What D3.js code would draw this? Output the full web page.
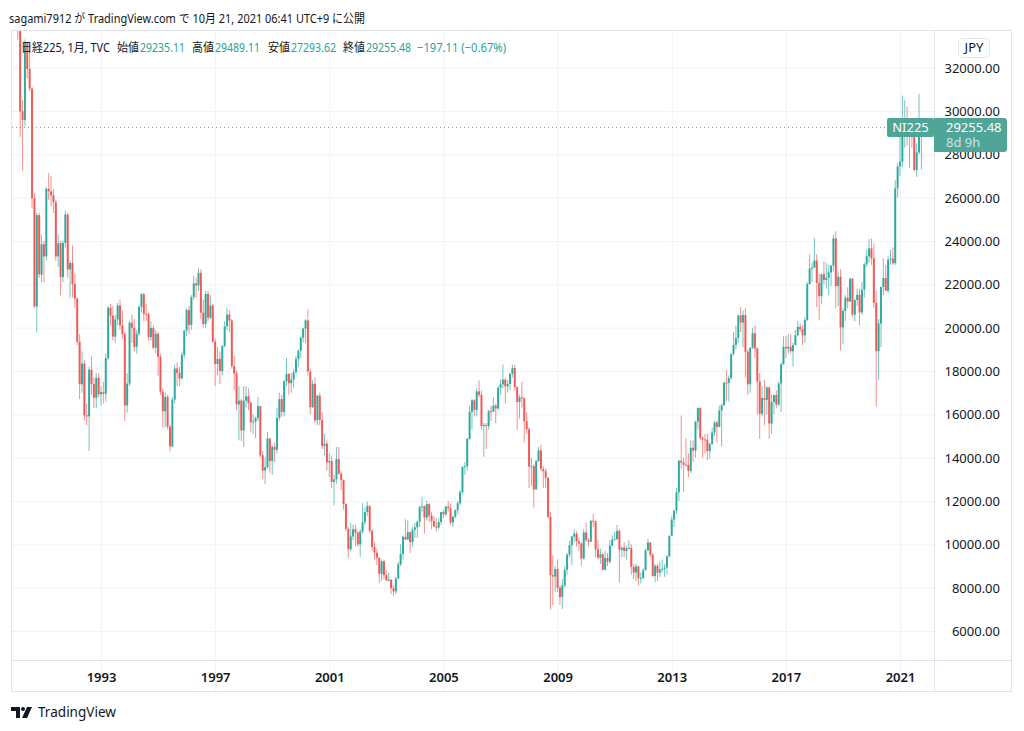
<!DOCTYPE html>
<html><head><meta charset="utf-8">
<script src="https://cdn.jsdelivr.net/npm/d3@7"></script>
<style>
html,body{margin:0;padding:0;background:#fff;}
svg{display:block;}
text{font-family:"Noto Sans","Noto Sans CJK JP",sans-serif;fill:#131722;}
</style></head><body>
<svg id="chart" width="1024" height="731"></svg>
<script>
// ---- data (monthly Nikkei 225, Jan 1990 .. Oct 2021) ----
const startYear = 1990;
const firstOpen = 38921;
const closes = [
37189,34592,29980,29585,33131,31940,31036,25978,20984,25194,22455,23849,
23293,26409,26292,26111,25790,23291,23900,22336,23916,25222,22688,22984,
22023,21339,19346,17391,18348,15952,15910,18061,17399,16767,17684,16925,
17024,16953,18591,20919,20552,19590,20380,21028,20106,19703,16408,17417,
20229,19997,19112,19725,20974,21552,20642,20629,19564,19990,19076,19723,
18650,17053,16140,16807,15437,14517,16678,18117,17913,17655,18744,19868,
20813,20125,21407,22041,21956,22531,20693,20167,21556,20467,21020,19361,
18330,18557,18003,19151,20069,20605,20331,18229,17888,16459,16637,15259,
16628,16832,16527,15641,15671,15830,16379,14108,13406,13565,14884,13842,
14499,14368,15837,16702,16112,17530,17862,17437,17605,17942,18558,18934,
19540,19960,20337,17974,16332,17411,15727,16861,15747,14540,14649,13786,
13844,12884,12999,13934,13262,12969,11861,10714,9775,10366,10697,10543,
9997,10588,11025,11493,11764,10622,9877,9619,9383,8640,9216,8579,
8340,8363,7973,7831,8425,9083,9563,10344,10219,10560,10101,10677,
10784,11042,11715,11762,11236,11859,11326,11082,10824,10771,11031,11489,
11388,11741,11669,11009,11277,11584,11900,12414,13574,13607,14872,16111,
16650,16206,17060,16906,15468,15505,15457,16141,16128,16399,16274,17226,
17383,17604,17288,17400,17876,18138,17249,16569,16786,16737,15681,15308,
13592,13603,12526,13850,14339,13481,13377,13073,11260,8577,8512,8860,
7994,7568,8110,8828,9523,9958,10357,10493,10133,10035,9346,10546,
10198,10126,11090,11057,9769,9383,9537,8824,9369,9202,9937,10229,
10238,10624,9755,9850,9694,9816,9833,8955,8700,8988,8435,8455,
8803,9723,10084,9521,8543,9007,8695,8840,8870,8928,9446,10395,
11139,11559,12398,13861,13775,13677,13668,13389,14456,14328,15662,16291,
14915,14841,14828,14304,14632,15162,15621,15425,16174,16414,17460,17451,
17674,18798,19207,19520,20563,20236,20585,18890,17388,19083,19747,19034,
17518,16027,16759,16666,17235,15576,16569,16887,16450,17425,18308,19114,
19041,19119,18909,19197,19651,20033,19925,19646,20356,22012,22725,22765,
23098,22068,21454,22468,22202,22305,22554,22865,24120,21920,22351,20015,
20773,21385,21206,22259,20601,21276,21521,20704,21756,22927,23294,23657,
23205,21143,18917,20194,21878,22288,21710,23140,23185,22977,26434,27444,
27663,28966,29179,28813,28860,28792,27284,28090,29453,29255.48
];
const highs = [
38951,37600,34900,30500,33300,33200,33100,31100,26200,25300,25300,24300,
24000,26500,27146,27000,26400,25900,24300,24000,24000,25400,25300,23100,
23800,22500,21400,19700,18900,18500,16500,18200,18700,17700,17900,17900,
17300,17500,18800,21000,21100,21000,20600,21148,21300,20800,19800,17900,
20300,20600,20400,19900,21000,21573,21600,21100,20700,20300,20100,19900,
19800,18800,17200,17000,16900,15500,16800,18300,18400,18200,18900,19900,
20900,21000,21500,22400,22300,22750,22700,21300,21700,21700,21500,21100,
19500,19100,18900,19200,20300,20910,20800,20400,18700,18000,17300,16700,
17300,17300,17200,16600,16000,15900,16800,16400,14300,14000,15200,14900,
14600,14700,16300,17000,16900,17600,18600,17900,17900,18100,18700,19000,
19600,20000,20400,20833,18100,17600,17700,16900,17000,16100,15100,14800,
14200,14100,13200,14500,14500,13400,13000,11900,10800,11000,10900,10900,
10600,10700,11900,11700,11979,11800,10700,10100,9800,9400,9300,9300,
8800,8700,8400,8100,8500,9200,10000,10400,11161,11100,10600,10800,
11000,11100,11800,12195,11800,12000,11900,11500,11300,11200,11200,11500,
11600,11800,12000,11900,11300,11600,12000,12500,13600,13800,14900,16400,
16700,16700,17200,17563,17100,15600,15600,16200,16400,16800,16500,17300,
17600,18300,17700,17600,17900,18300,18297,17300,16900,17500,16800,16100,
15400,14000,13700,13900,14500,14600,13600,13500,13100,11500,9500,9000,
9300,8100,8400,9000,9600,10170,10400,10700,10600,10300,10100,10700,
11000,10300,11100,11400,11100,10200,9800,9600,9700,9600,10200,10400,
10600,10900,10700,9900,10100,9900,10200,10000,9100,9100,9000,8700,
8900,9800,10255,10100,9600,9100,9100,9200,9300,9100,9500,10400,
11300,11600,12600,13900,15942,14000,14900,14200,14800,14800,15700,16320,
16321,15000,15100,15100,14700,15400,15700,15700,16400,16500,17500,18030,
17800,18800,19800,20100,20600,20953,20800,20900,19000,19100,20000,20100,
19100,17900,17300,17600,17300,17300,16900,16900,17100,17500,18400,19600,
19600,19700,19700,19300,19900,20300,20200,20100,20500,22100,23382,23000,
24129,23400,22500,22500,23050,23000,22900,22900,24300,24448,22600,22700,
20900,21500,21860,22300,22300,21300,21800,21800,22100,23000,23600,24100,
24116,23900,21700,20400,21900,23185,22900,23300,23600,23700,26800,27600,
28979,30714,30500,30200,29400,29500,28900,28500,30795,29489.11
];
const lows = [
36800,33300,28800,27250,29300,31500,30900,25500,20900,19781,22300,22100,
22100,23100,25900,25600,25300,23100,22800,21500,22100,23700,22300,21400,
21400,20900,19200,16700,17000,15700,15500,14309,16900,16300,16300,16800,
16400,16500,16600,18500,20100,19400,19300,20100,19900,19500,15700,16078,
17300,19300,18900,18800,19600,20700,20300,20300,19400,19400,19000,18800,
17785,16900,15381,15400,15300,14295,14485,16500,17300,17300,17600,18600,
19600,19700,19900,21300,21400,21700,20400,20000,20000,20300,20400,19300,
17303,17800,17400,17800,19100,19900,19800,18100,17100,16200,14800,14775,
14500,16300,16200,15200,15100,14900,15700,14000,13000,12787,13500,13300,
13200,13800,14200,15700,15900,15900,17300,16900,17000,17200,17900,18200,
18600,19300,19300,17800,16000,16300,15600,15500,15500,14400,14100,13400,
13100,12600,11800,12800,13200,12500,11600,10600,9382,9700,10200,9900,
9900,9420,10500,10900,11300,10500,9700,9300,9050,8200,8300,8400,
8300,8300,7700,7604,7700,8400,9000,9300,10200,10200,9600,9900,
10300,10300,10800,11500,10500,11100,11000,10700,10800,10600,10700,10900,
11200,11300,11500,10900,10800,11200,11400,11800,12300,13200,13400,14800,
15300,15900,15900,16800,15300,14045,14400,15300,15700,16100,15600,16200,
16900,17200,16500,17000,17100,17700,17100,15273,15800,16300,14700,15100,
12600,12700,11700,12600,13800,13400,12600,12600,11200,6995,7200,7800,
7800,7200,7021,8000,8600,9400,9050,10100,9900,9700,9000,9300,
10100,9900,10100,10800,9400,9300,9100,8800,8800,9000,9100,9900,
10200,10200,8227,9400,9400,9300,9800,8600,8400,8300,8100,8200,
8400,8800,9700,9400,8500,8238,8300,8500,8700,8500,8600,9400,
10400,10800,11400,12000,13500,12415,13600,13100,13300,13800,14000,15300,
14800,13995,14200,13885,13964,14600,15000,14700,15400,14529,16400,16600,
16600,17600,18700,19000,19300,19800,19100,17700,16900,17000,19000,18600,
16000,14865,15900,15500,16000,14864,15100,16000,16300,16400,16100,18300,
18600,18800,18800,18200,19200,19600,19800,19200,19300,20300,22000,22100,
22800,20950,20347,21100,22000,21800,21500,21900,22600,20900,21000,18949,
19241,20300,20900,21200,20500,20300,21000,20100,20600,21400,22800,23000,
22900,20900,16358,17600,19100,21500,21700,21600,22900,22900,22900,26000,
27000,27400,28300,28400,27385,28300,27200,26954,28000,27293.62
];
// latest bar as shown in the legend
const lastOpen = 29235.11, lastHigh = 29489.11, lastLow = 27293.62, lastClose = 29255.48;
const lastChange = "\u2212197.11", lastPct = "(\u22120.67%)";
const yTickValues = [6000,8000,10000,12000,14000,16000,18000,20000,22000,24000,26000,28000,30000,32000];
const yearLabels = [1993,1997,2001,2005,2009,2013,2017,2021];

// ---- layout ----
const W = 1024, H = 731;
const L = 11, R = 934, T = 30, B = 660, AB = 691, RB = 1011;
const upColor = "#26a69a", downColor = "#ef5350", labelColor = "#4fa597";
const frame = "#e0e3eb", grid = "#f0f3fa";

const n = closes.length;
const data = closes.map((c, i) => {
  const open = i === 0 ? firstOpen : (i === n - 1 ? lastOpen : closes[i - 1]);
  return {i, open, high: highs[i], low: lows[i], close: c};
});

const svg = d3.select("#chart");
const x = d3.scaleLinear().domain([0, 372]).range([15.4, 900]);
const y = d3.scaleLinear().domain([6000, 32000]).range([631, 67.7]);

svg.append("rect").attr("width", W).attr("height", H).attr("fill", "#fff");

// grid
const yGrid = svg.append("g").attr("transform", `translate(${L},0)`)
  .call(d3.axisRight(y).tickValues(yTickValues).tickSize(R - L).tickFormat(""));
yGrid.select(".domain").remove();
yGrid.selectAll("line").attr("stroke", grid);

const xTickIdx = yearLabels.map(yr => (yr - startYear) * 12);
const xGrid = svg.append("g").attr("transform", `translate(0,${T})`)
  .call(d3.axisBottom(x).tickValues(xTickIdx).tickSize(AB - T).tickFormat(""));
xGrid.select(".domain").remove();
xGrid.selectAll("line").attr("stroke", grid);

// frame
const fr = svg.append("g").attr("stroke", frame).attr("fill", "none");
fr.append("rect").attr("x", L + 0.5).attr("y", T + 0.5).attr("width", RB - L).attr("height", AB - T);
fr.append("line").attr("x1", L).attr("x2", RB).attr("y1", B + 0.5).attr("y2", B + 0.5);
fr.append("line").attr("x1", R + 0.5).attr("x2", R + 0.5).attr("y1", T).attr("y2", AB);

// clip
svg.append("clipPath").attr("id", "clip").append("rect")
  .attr("x", L + 1).attr("y", T + 1).attr("width", R - L - 1).attr("height", B - T - 1);

// last price dotted line
const yLast = Math.round(y(lastClose)) + 0.5;
svg.append("line").attr("x1", L + 1).attr("x2", 887).attr("y1", yLast).attr("y2", yLast)
  .attr("stroke", upColor).attr("stroke-opacity", 0.8).attr("stroke-dasharray", "1,3").attr("stroke-width", 1);

// candles
const cg = svg.append("g").attr("clip-path", "url(#clip)");
const col = d => d.close >= d.open ? upColor : downColor;
cg.selectAll("line.wick").data(data).join("line").attr("class", "wick")
  .attr("x1", d => x(d.i)).attr("x2", d => x(d.i))
  .attr("y1", d => y(d.high)).attr("y2", d => y(d.low))
  .attr("stroke", col).attr("stroke-width", 1).attr("stroke-opacity", 0.65);
cg.selectAll("rect.body").data(data).join("rect").attr("class", "body")
  .attr("x", d => x(d.i) - 1).attr("width", 2)
  .attr("y", d => y(Math.max(d.open, d.close)))
  .attr("height", d => Math.max(1, Math.abs(y(d.open) - y(d.close))))
  .attr("fill", col).attr("fill-opacity", 0.92);

// y axis labels
const yAx = svg.append("g").attr("transform", `translate(${R},0)`)
  .call(d3.axisRight(y).tickValues(yTickValues).tickSize(0).tickFormat(d => d.toFixed(2)));
yAx.select(".domain").remove();
yAx.selectAll("text").attr("x", 1000 - R).attr("text-anchor", "end")
  .attr("font-size", 13).attr("fill", "#131722").attr("dy", "0.35em")
  .style("font-family", '"Noto Sans",sans-serif');

// x axis labels
const xAx = svg.append("g").attr("transform", `translate(0,${B})`)
  .call(d3.axisBottom(x).tickValues(xTickIdx).tickSize(0).tickFormat(d => String(startYear + d / 12)));
xAx.select(".domain").remove();
xAx.selectAll("text").attr("y", 17).attr("dy", "0.35em")
  .attr("font-size", 13).attr("font-weight", 600).attr("fill", "#131722")
  .style("font-family", '"Noto Sans",sans-serif');

// JPY box
svg.append("rect").attr("x", 958.5).attr("y", 38.5).attr("width", 31).attr("height", 19).attr("rx", 4)
  .attr("fill", "#fff").attr("stroke", frame);
svg.append("text").attr("x", 974).attr("y", 52).attr("text-anchor", "middle").attr("font-size", 13).text("JPY");

// price labels
svg.append("rect").attr("x", 887).attr("y", 118).attr("width", 47).attr("height", 19).attr("rx", 2).attr("fill", labelColor);
svg.append("text").attr("x", 910.5).attr("y", 132).attr("text-anchor", "middle").attr("font-size", 13)
  .style("fill", "#fff").text("NI225");
svg.append("path").attr("fill", labelColor)
  .attr("d", "M934,118 H1004 Q1007,118 1007,121 V149 Q1007,152 1004,152 H934 Z");
svg.append("text").attr("x", 946).attr("y", 132).attr("font-size", 13).style("fill", "#fff").text(lastClose.toFixed(2));
svg.append("text").attr("x", 946).attr("y", 147).attr("font-size", 13).style("fill", "rgba(255,255,255,0.72)").text("8d 9h");

// title
svg.append("text").attr("x", 9).attr("y", 23).attr("font-size", 12.5)
  .attr("textLength", 356).attr("lengthAdjust", "spacingAndGlyphs")
  .text("sagami7912 が TradingView.com で 10月 21, 2021 06:41 UTC+9 に公開");

// legend
const lg = svg.append("g").attr("font-size", 12);
const legendItems = [
  {x: 21, w: 89, t: "日経225, 1月, TVC", c: "#131722"},
  {x: 117, w: 22, t: "始値", c: "#131722"}, {x: 140, w: 45, t: lastOpen.toFixed(2), c: upColor},
  {x: 192, w: 22, t: "高値", c: "#131722"}, {x: 215, w: 45, t: lastHigh.toFixed(2), c: upColor},
  {x: 268, w: 22, t: "安値", c: "#131722"}, {x: 291, w: 45, t: lastLow.toFixed(2), c: upColor},
  {x: 343, w: 22, t: "終値", c: "#131722"}, {x: 366, w: 45, t: lastClose.toFixed(2), c: upColor},
  {x: 417, w: 89, t: lastChange + " " + lastPct, c: upColor}
];
lg.selectAll("text").data(legendItems).join("text")
  .attr("x", d => d.x).attr("y", 52)
  .attr("textLength", d => d.w).attr("lengthAdjust", "spacingAndGlyphs")
  .style("fill", d => d.c).text(d => d.t);

// TradingView logo
const logo = svg.append("g").attr("fill", "#131722");
logo.append("path").attr("d", "M11,707 H20 V718 H16 V711 H11 Z");
logo.append("circle").attr("cx", 23).attr("cy", 709).attr("r", 2);
logo.append("path").attr("d", "M27,707 H32 L27,718 H22 Z");
svg.append("text").attr("x", 38).attr("y", 717).attr("font-size", 15)
  .attr("textLength", 78).attr("lengthAdjust", "spacingAndGlyphs").text("TradingView");
</script></body></html>
